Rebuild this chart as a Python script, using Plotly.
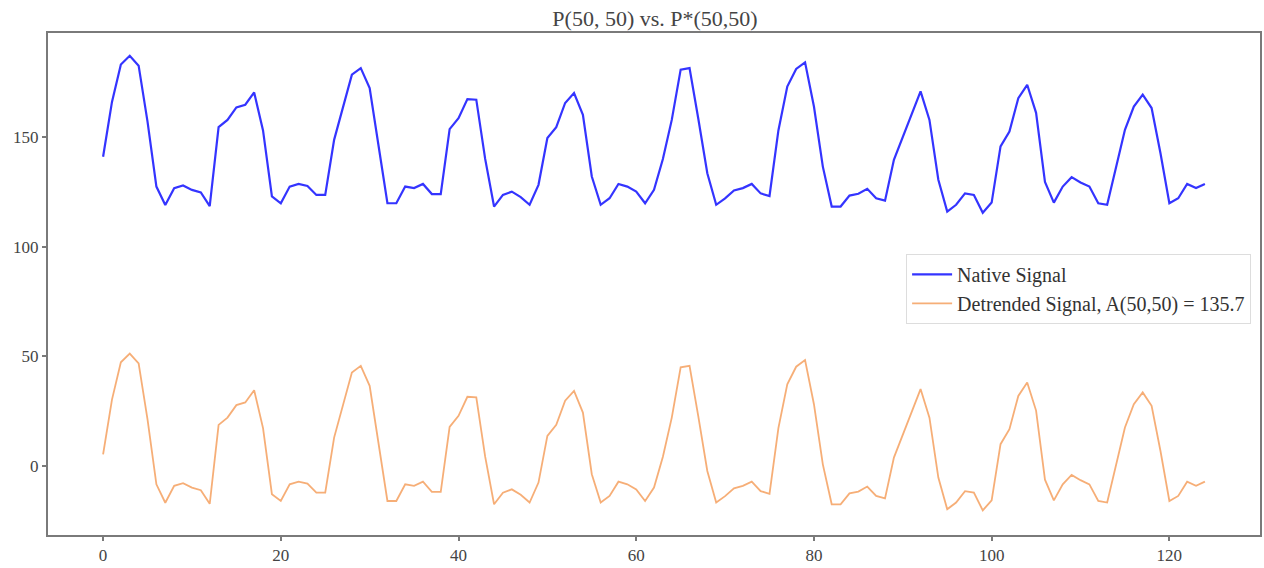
import plotly.graph_objects as go

x_index = list(range(125))

native_signal = [141, 166, 183, 187, 182.5, 157, 127.4, 119, 126.7, 127.9, 125.9, 124.7, 118.5,
                 154.5, 157.8, 163.5, 164.7, 170.3, 153, 122.9, 119.8, 127.4, 128.6, 127.7, 123.6, 123.6,
                 148.7, 163.9, 178.4, 181.4, 172.3, 146, 119.8, 119.8, 127.4, 126.7, 128.6, 124, 124,
                 153.6, 158.6, 167.3, 167, 140, 118.3, 123.6, 125.1, 122.6, 119.1, 128.2, 149.5, 154.5,
                 165.5, 170, 160.1, 132, 119.1, 122.1, 128.6, 127.4, 125.1, 119.8, 125.9, 140, 157.8,
                 180.7, 181.4, 158, 133.5, 119.1, 122, 125.6, 126.7, 128.6, 124.3, 123.1, 153, 173,
                 181, 184, 163.9, 136.5, 118.3, 118.3, 123.3, 124.1, 126.4, 122.1, 121, 139.6, 150.2,
                 160.9, 170.8, 157.8, 130.5, 116, 119.1, 124.3, 123.6, 115.5, 120.1, 145.7, 152.5, 167.7,
                 173.8, 161, 129.5, 120.1, 127.4, 131.7, 129.3, 127.4, 119.8, 119.1, 135.8, 153.3, 163.9,
                 169.3, 163.2, 142.6, 119.8, 122.1, 128.6, 126.7, 128.6]

detrended_signal = [5.3, 30.3, 47.3, 51.3, 46.8, 21.3, -8.3, -16.7, -9.0, -7.8, -9.8, -11.0, -17.2,
                    18.8, 22.1, 27.8, 29.0, 34.6, 17.3, -12.8, -15.9, -8.3, -7.1, -8.0, -12.1, -12.1,
                    13.0, 28.2, 42.7, 45.7, 36.6, 10.3, -15.9, -15.9, -8.3, -9.0, -7.1, -11.7, -11.7,
                    17.9, 22.9, 31.6, 31.3, 4.3, -17.4, -12.1, -10.6, -13.1, -16.6, -7.5, 13.8, 18.8,
                    29.8, 34.3, 24.4, -3.7, -16.6, -13.6, -7.1, -8.3, -10.6, -15.9, -9.8, 4.3, 22.1,
                    45.0, 45.7, 22.3, -2.2, -16.6, -13.7, -10.1, -9.0, -7.1, -11.4, -12.6, 17.3, 37.3,
                    45.3, 48.3, 28.2, 0.8, -17.4, -17.4, -12.4, -11.6, -9.3, -13.6, -14.7, 3.9, 14.5,
                    25.2, 35.1, 22.1, -5.2, -19.7, -16.6, -11.4, -12.1, -20.2, -15.6, 10.0, 16.8, 32.0,
                    38.1, 25.3, -6.2, -15.6, -8.3, -4.0, -6.4, -8.3, -15.9, -16.6, 0.1, 17.6, 28.2,
                    33.6, 27.5, 6.9, -15.9, -13.6, -7.1, -9.0, -7.1]

x_ticks = [0, 20, 40, 60, 80, 100, 120]
y_ticks = [0, 50, 100, 150]

title_text = "P(50, 50) vs. P*(50,50)"
native_name = "Native Signal"
detrended_name = "Detrended Signal, A(50,50) = 135.7"

FONT = "Liberation Serif"

fig = go.Figure()
fig.add_trace(go.Scatter(x=x_index, y=native_signal, mode="lines", name=native_name,
                         line=dict(color="rgba(30,30,255,0.9)", width=2.2)))
fig.add_trace(go.Scatter(x=x_index, y=detrended_signal, mode="lines", name=detrended_name,
                         line=dict(color="rgba(245,160,95,0.85)", width=1.8)))

axis_common = dict(showgrid=False, zeroline=False, showline=True, mirror=True,
                   linecolor="#7a7a7a", linewidth=2, ticks="outside", ticklen=4,
                   tickwidth=1.5, tickcolor="#7a7a7a",
                   tickfont=dict(family=FONT, size=17, color="#444444"))

fig.update_layout(
    width=1264, height=568,
    margin=dict(l=48, r=2, t=33, b=33),
    paper_bgcolor="white", plot_bgcolor="white",
    title=dict(text=title_text, x=655 / 1264, xanchor="center", y=1 - 18 / 568, yanchor="middle",
               font=dict(family=FONT, size=22, color="#444444")),
    xaxis=dict(range=[-6.2, 130.2], tickvals=x_ticks, **axis_common),
    yaxis=dict(range=[-31.4, 197.4], tickvals=y_ticks, **axis_common),
    legend=dict(x=0.708, y=0.56, xanchor="left", yanchor="top",
                bgcolor="rgba(255,255,255,0.85)", bordercolor="#dddddd", borderwidth=1,
                font=dict(family=FONT, size=20, color="#333333"), tracegroupgap=0,
                itemwidth=40),
    showlegend=True,
)

fig.write_html("out.html")
